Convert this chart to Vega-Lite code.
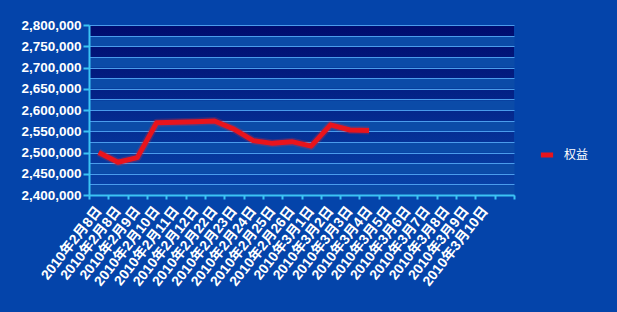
{
  "$schema": "https://vega.github.io/schema/vega-lite/v6.json",
  "autosize": {"type": "none"},
  "width": 425,
  "height": 170,
  "padding": {"left": 89, "top": 25, "right": 103, "bottom": 117},
  "background": "#0444aa",
  "data": {
    "values": [
      {"d": "2010年2月8日", "v": 2500000, "s": "权益"},
      {"d": "2010年2月8日\u200b", "v": 2477000, "s": "权益"},
      {"d": "2010年2月9日", "v": 2488000, "s": "权益"},
      {"d": "2010年2月10日", "v": 2570000, "s": "权益"},
      {"d": "2010年2月11日", "v": 2571000, "s": "权益"},
      {"d": "2010年2月12日", "v": 2572500, "s": "权益"},
      {"d": "2010年2月22日", "v": 2574000, "s": "权益"},
      {"d": "2010年2月23日", "v": 2555000, "s": "权益"},
      {"d": "2010年2月24日", "v": 2528000, "s": "权益"},
      {"d": "2010年2月25日", "v": 2521500, "s": "权益"},
      {"d": "2010年2月26日", "v": 2525500, "s": "权益"},
      {"d": "2010年3月1日", "v": 2515000, "s": "权益"},
      {"d": "2010年3月2日", "v": 2565000, "s": "权益"},
      {"d": "2010年3月3日", "v": 2553000, "s": "权益"},
      {"d": "2010年3月4日", "v": 2551500, "s": "权益"},
      {"d": "2010年3月5日", "v": null, "s": "权益"},
      {"d": "2010年3月6日", "v": null, "s": "权益"},
      {"d": "2010年3月7日", "v": null, "s": "权益"},
      {"d": "2010年3月8日", "v": null, "s": "权益"},
      {"d": "2010年3月9日", "v": null, "s": "权益"},
      {"d": "2010年3月10日", "v": null, "s": "权益"},
      {"d": " ", "v": null, "s": "权益"}
    ]
  },
  "encoding": {
    "x": {
      "field": "d",
      "type": "ordinal",
      "sort": null,
      "scale": {"type": "band", "paddingInner": 0, "paddingOuter": 0},
      "axis": {
        "title": null,
        "grid": false,
        "labelAngle": -52,
        "labelAlign": "right",
        "labelBaseline": "middle",
        "labelColor": "#ffffff",
        "labelFont": "Liberation Sans, Noto Sans CJK SC",
        "labelFontWeight": "bold",
        "labelFontSize": 14,
        "labelPadding": 9,
        "labelOverlap": false,
        "labelLimit": 0,
        "domainColor": "#3cc4f4",
        "domainWidth": 2,
        "tickColor": "#3cc4f4",
        "tickWidth": 2,
        "tickSize": 4,
        "tickBand": "extent"
      }
    }
  },
  "layer": [
    {
      "mark": {"type": "line", "color": "#ff2a2a", "strokeWidth": 8, "opacity": 0.22, "strokeJoin": "round", "invalid": "break-paths-show-domains"},
      "encoding": {
        "y": {
          "field": "v",
          "type": "quantitative",
          "scale": {"domain": [2400000, 2800000], "nice": false, "zero": false},
          "axis": {
            "orient": "right",
            "title": null,
            "domain": false,
            "ticks": false,
            "labels": false,
            "minExtent": 0,
            "maxExtent": 0,
            "grid": true,
            "values": [2762500, 2712500, 2662500, 2612500, 2562500, 2512500, 2462500, 2412500],
            "gridColor": "#0b4ba8",
            "gridWidth": 10.6,
            "gridOpacity": 1
          }
        }
      }
    },
    {
      "mark": {"type": "line", "strokeWidth": 5, "strokeJoin": "round", "invalid": "break-paths-show-domains"},
      "encoding": {
        "y": {
          "field": "v",
          "type": "quantitative",
          "axis": {
            "title": null,
            "values": [2400000, 2425000, 2450000, 2475000, 2500000, 2525000, 2550000, 2575000, 2600000, 2625000, 2650000, 2675000, 2700000, 2725000, 2750000, 2775000, 2800000],
            "labelExpr": "datum.value % 50000 === 0 ? format(datum.value, ',') : ''",
            "labelColor": "#ffffff",
            "labelFont": "Liberation Sans",
            "labelFontWeight": "bold",
            "labelFontSize": 13.5,
            "labelPadding": 2,
            "domainColor": "#3cc4f4",
            "domainWidth": 2,
            "tickColor": "#3cc4f4",
            "tickWidth": 2,
            "tickSize": 6,
            "tickOpacity": {"condition": {"test": "datum.value % 50000 === 0", "value": 1}, "value": 0},
            "grid": true,
            "gridColor": "#4a9cec",
            "gridWidth": 1,
            "gridOpacity": 1
          }
        },
        "color": {
          "field": "s",
          "type": "nominal",
          "scale": {"range": ["#e8141c"]},
          "legend": {
            "title": null,
            "orient": "none",
            "legendX": 449,
            "legendY": 121,
            "symbolType": "stroke",
            "symbolSize": 150,
            "symbolStrokeWidth": 5,
            "labelColor": "#ffffff",
            "labelFont": "Noto Sans CJK SC",
            "labelFontSize": 12,
            "labelOffset": 8,
            "padding": 0
          }
        }
      }
    }
  ],
  "resolve": {"axis": {"y": "independent"}},
  "config": {
    "view": {
      "stroke": null,
      "fill": {
        "gradient": "linear",
        "x1": 0, "y1": 0, "x2": 0, "y2": 1,
        "stops": [
          {"offset": 0, "color": "#000b6e"},
          {"offset": 1, "color": "#0844aa"}
        ]
      }
    }
  }
}
